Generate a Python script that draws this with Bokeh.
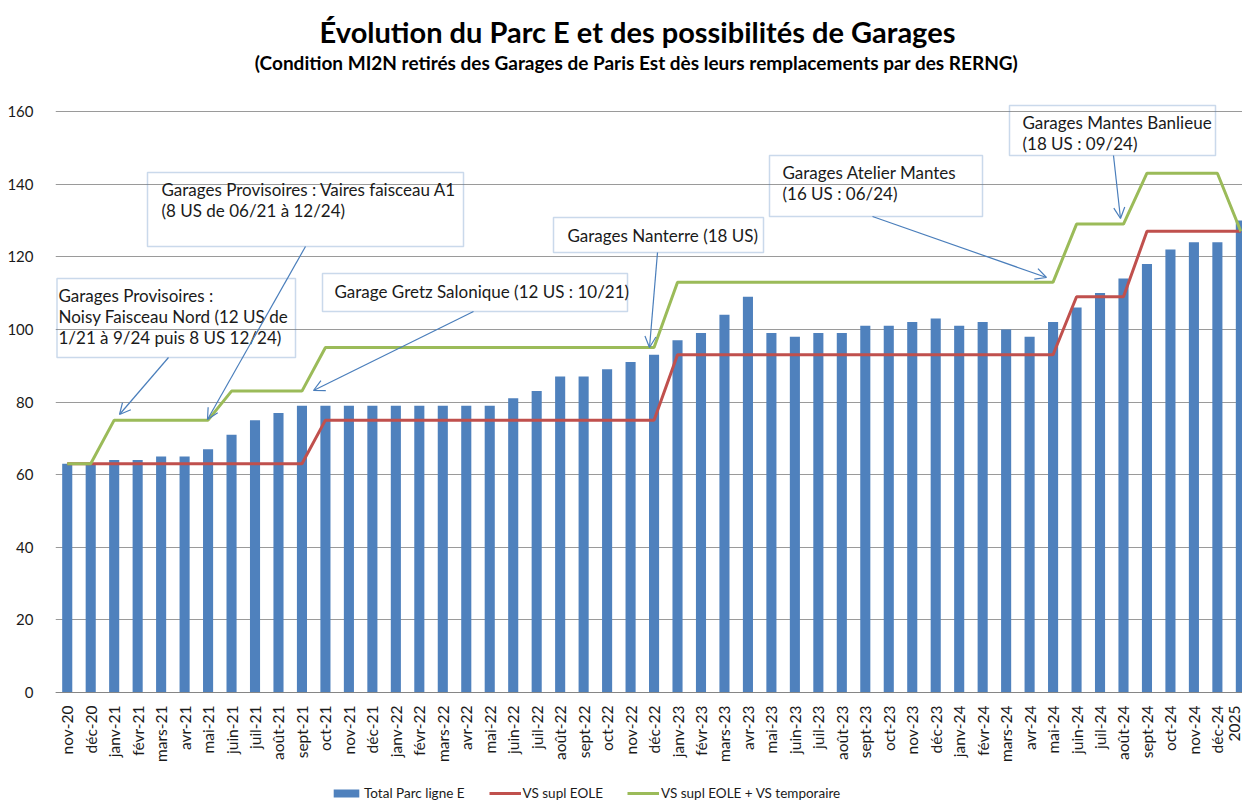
from math import pi
from bokeh.plotting import figure
from bokeh.models import (Range1d, FixedTicker, Label, BoxAnnotation, Arrow, OpenHead,
                          Legend, LegendItem, ColumnDataSource)
from bokeh.embed import file_html
from bokeh.resources import INLINE

# ---------------- data ----------------
categories = ["nov-20", "déc-20", "janv-21", "févr-21", "mars-21", "avr-21", "mai-21", "juin-21",
              "juil-21", "août-21", "sept-21", "oct-21", "nov-21", "déc-21", "janv-22", "févr-22",
              "mars-22", "avr-22", "mai-22", "juin-22", "juil-22", "août-22", "sept-22", "oct-22",
              "nov-22", "déc-22", "janv-23", "févr-23", "mars-23", "avr-23", "mai-23", "juin-23",
              "juil-23", "août-23", "sept-23", "oct-23", "nov-23", "déc-23", "janv-24", "févr-24",
              "mars-24", "avr-24", "mai-24", "juin-24", "juil-24", "août-24", "sept-24", "oct-24",
              "nov-24", "déc-24", "2025"]

total_parc = [63, 63, 64, 64, 65, 65, 67, 71, 75, 77, 79, 79, 79, 79, 79, 79, 79, 79, 79, 81,
              83, 87, 87, 89, 91, 93, 97, 99, 104, 109, 99, 98, 99, 99, 101, 101, 102, 103, 101,
              102, 100, 98, 102, 106, 110, 114, 118, 122, 124, 124, 130]

vs_supl_eole = [63, 63, 63, 63, 63, 63, 63, 63, 63, 63, 63, 75, 75, 75, 75, 75, 75, 75, 75, 75,
                75, 75, 75, 75, 75, 75, 93, 93, 93, 93, 93, 93, 93, 93, 93, 93, 93, 93, 93, 93,
                93, 93, 93, 109, 109, 109, 127, 127, 127, 127, 127]

vs_supl_eole_temp = [63, 63, 75, 75, 75, 75, 75, 83, 83, 83, 83, 95, 95, 95, 95, 95, 95, 95, 95,
                     95, 95, 95, 95, 95, 95, 95, 113, 113, 113, 113, 113, 113, 113, 113, 113, 113,
                     113, 113, 113, 113, 113, 113, 113, 129, 129, 129, 143, 143, 143, 143, 127]

yticks = [0, 20, 40, 60, 80, 100, 120, 140, 160]

title_text = "Évolution du Parc E et des possibilités de Garages"
subtitle_text = ("(Condition MI2N retirés des Garages de Paris Est dès leurs remplacements "
                 "par des RERNG)")

# callouts: lines, box px (left, top, right, bottom), text left px, line centre px,
#           arrow start px, arrow end px
callouts = [
    (["Garages Provisoires :", "Noisy Faisceau Nord (12 US de", "1/21 à 9/24 puis 8 US 12/24)"],
     (56.5, 278, 295, 357), 58, [295, 316, 337], (168, 357), (119, 414)),
    (["Garages Provisoires : Vaires faisceau A1", "(8 US de 06/21 à 12/24)"],
     (147, 172, 463, 246), 161, [189, 210], (305, 246), (207, 419)),
    (["Garage Gretz Salonique (12 US : 10/21)"],
     (322, 273, 627, 311), 334, [291], (473, 311), (313, 390)),
    (["Garages Nanterre (18 US)"],
     (553, 217, 763, 252), 567, [235], (657, 252), (649, 347)),
    (["Garages Atelier Mantes", "(16 US : 06/24)"],
     (769, 155, 982, 216), 782, [172, 193], (872, 216), (1046, 277)),
    (["Garages Mantes Banlieue", "(18 US : 09/24)"],
     (1009, 105, 1215, 155), 1022, [122, 143], (1113, 155), (1120, 218)),
]

FONT = "Lato"
TXT = "#1a1a1a"
BLUE = "#4F81BD"
RED = "#C0504D"
GREEN = "#9BBB59"

# ---------------- geometry ----------------
W, H = 1242, 801
FRAME_L = 55
AXIS_Y = 692          # pixel row of value 0
PX_PER_UNIT = 581 / 160
X0, X1 = -0.5, 50.07
Y0, Y1 = -(H - AXIS_Y) / PX_PER_UNIT, AXIS_Y / PX_PER_UNIT


def dx(px):
    return X0 + (px - FRAME_L) * (X1 - X0) / (W - FRAME_L)


def dy(py):
    return (AXIS_Y - py) / PX_PER_UNIT


xs = list(range(len(categories)))
src = ColumnDataSource(dict(x=xs, total=total_parc, eole=vs_supl_eole, temp=vs_supl_eole_temp))

p = figure(width=W, height=H, output_backend="svg", toolbar_location=None,
           x_range=Range1d(X0, X1), y_range=Range1d(Y0, Y1), min_border=0,
           min_border_left=FRAME_L, min_border_right=0, min_border_top=0, min_border_bottom=0)
p.outline_line_color = None
p.background_fill_color = "white"
p.border_fill_color = "white"

p.xgrid.visible = False
p.ygrid.grid_line_color = "#9a9a9a"
p.ygrid.grid_line_width = 1
p.ygrid.ticker = FixedTicker(ticks=yticks)

p.yaxis.ticker = FixedTicker(ticks=yticks)
p.yaxis.axis_line_color = None
p.yaxis.major_tick_line_color = None
p.yaxis.minor_tick_line_color = None
p.yaxis.major_label_standoff = 16
p.yaxis.major_label_text_font = FONT
p.yaxis.major_label_text_font_size = "15px"
p.yaxis.major_label_text_color = TXT

p.xaxis.fixed_location = 0
p.xaxis.ticker = FixedTicker(ticks=xs)
p.xaxis.major_label_overrides = {i: c for i, c in enumerate(categories)}
p.xaxis.major_label_orientation = pi / 2
p.xaxis.axis_line_color = "#868686"
p.xaxis.major_tick_line_color = None
p.xaxis.minor_tick_line_color = None
p.xaxis.major_label_standoff = 7
p.xaxis.major_label_text_font = FONT
p.xaxis.major_label_text_font_size = "15.5px"
p.xaxis.major_label_text_color = TXT

bars = p.vbar(x="x", top="total", width=0.43, source=src, fill_color=BLUE, line_color=None)
red = p.line("x", "eole", source=src, line_color=RED, line_width=3)
green = p.line("x", "temp", source=src, line_color=GREEN, line_width=3)

# callouts
for lines, (bl, bt, br, bb), tl, lys, (ax0, ay0), (ax1, ay1) in callouts:
    p.add_layout(BoxAnnotation(left=dx(bl), right=dx(br), top=dy(bt), bottom=dy(bb),
                               fill_alpha=0, line_color=BLUE, line_width=1.5))
    for t, ly in zip(lines, lys):
        p.add_layout(Label(x=dx(tl), y=dy(ly), text=t, text_font=FONT, text_font_size="17px",
                           text_color=TXT, text_baseline="middle", text_align="left"))
    p.add_layout(Arrow(x_start=dx(ax0), y_start=dy(ay0), x_end=dx(ax1), y_end=dy(ay1),
                       line_color="#4A7EBB", line_width=1.2,
                       end=OpenHead(size=11, line_color="#4A7EBB", line_width=1.2)))

# titles
p.add_layout(Label(x=dx(637), y=dy(31), text=title_text, text_font=FONT, text_font_size="29px",
                   text_font_style="bold", text_color="black", text_align="center",
                   text_baseline="middle"))
p.add_layout(Label(x=dx(636), y=dy(62), text=subtitle_text, text_font=FONT,
                   text_font_size="19px", text_font_style="bold", text_color="black",
                   text_align="center", text_baseline="middle"))

legend = Legend(items=[LegendItem(label="Total Parc ligne E", renderers=[bars]),
                       LegendItem(label="VS supl EOLE", renderers=[red]),
                       LegendItem(label="VS supl EOLE + VS temporaire", renderers=[green])],
                orientation="horizontal", location=(275, 0), padding=0, margin=0,
                border_line_color=None, background_fill_alpha=0,
                glyph_width=32, glyph_height=10, label_height=15, label_standoff=2, spacing=24,
                label_text_font=FONT, label_text_font_size="13.5px", label_text_color=TXT)
p.add_layout(legend)

open("out.html", "w").write(file_html(p, INLINE))
